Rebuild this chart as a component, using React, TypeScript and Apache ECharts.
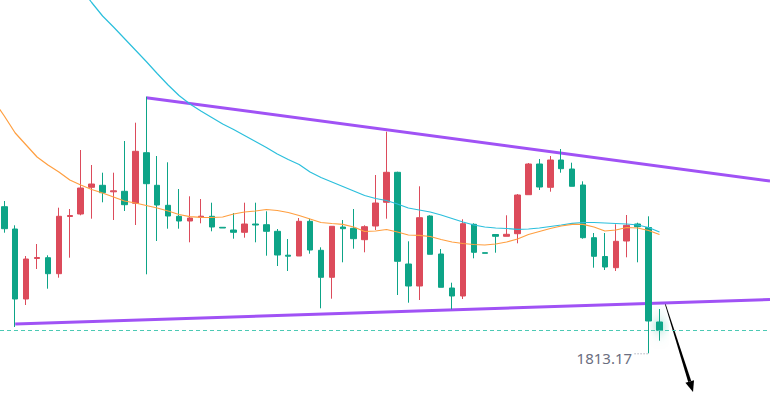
import React, { useEffect, useRef } from "react";
import * as echarts from "echarts";

// Candle data: [open, close, low, high], one per bar (index 0..60)
const opens = [1827.83,1825.6,1818.6,1822.65,1822.73,1821.13,1826.85,1827.1,1829.77,1829.97,1829.32,1829.37,1828.17,1833.23,1829.97,1827.97,1826.87,1826.4,1826.78,1826.87,1825.77,1825.5,1825.27,1826.1,1826.03,1825.37,1822.98,1822.9,1826.37,1823.47,1820.77,1825.8,1825.67,1824.53,1825.9,1828.27,1831.27,1822.1,1819.9,1826.9,1823.1,1819.7,1818.9,1826.07,1823.23,1825.05,1824.87,1825.13,1829.03,1832.1,1829.77,1832.5,1831.6,1830.0,1824.73,1822.85,1821.73,1824.4,1826.1,1825.75,1816.3];
const closes = [1825.63,1818.6,1822.6,1822.75,1821.13,1826.87,1826.95,1829.7,1830.1,1829.23,1829.42,1828.03,1833.37,1830.13,1828.0,1826.9,1826.4,1826.7,1826.88,1825.8,1825.7,1825.27,1826.1,1826.0,1825.37,1823.0,1822.88,1826.37,1823.5,1820.77,1825.87,1825.63,1824.63,1825.83,1828.2,1831.27,1822.37,1819.9,1826.73,1823.07,1819.77,1818.9,1826.13,1823.27,1823.17,1824.87,1825.07,1829.0,1832.1,1829.8,1832.5,1831.63,1829.87,1824.73,1822.87,1821.8,1824.37,1825.97,1825.83,1816.4,1815.47];
const lows = [1825.23,1815.8,1818.0,1821.6,1819.63,1820.73,1822.73,1826.97,1826.63,1828.27,1826.5,1827.4,1826.0,1821.07,1824.4,1825.63,1825.63,1824.27,1826.17,1825.37,1825.7,1824.63,1824.73,1824.27,1822.93,1821.9,1821.4,1822.9,1823.13,1817.67,1818.63,1822.27,1823.63,1823.27,1825.5,1826.63,1819.0,1818.23,1818.5,1823.07,1819.77,1817.57,1818.6,1822.67,1823.17,1823.23,1824.87,1824.17,1829.03,1829.5,1829.33,1831.23,1829.87,1824.63,1821.73,1821.5,1821.4,1822.77,1822.27,1813.17,1814.43];
const highs = [1828.4,1825.97,1822.9,1824.1,1822.97,1827.73,1827.6,1833.5,1832.0,1831.23,1831.23,1834.4,1836.23,1838.83,1832.9,1832.27,1829.6,1828.87,1828.6,1828.23,1825.77,1827.2,1828.23,1828.23,1827.37,1825.6,1824.6,1826.7,1826.63,1823.77,1825.87,1826.5,1827.6,1825.97,1831.0,1835.33,1831.33,1824.37,1829.87,1826.97,1823.6,1820.23,1826.57,1826.17,1823.23,1825.1,1826.97,1829.1,1832.2,1832.6,1832.9,1833.6,1832.23,1830.37,1825.2,1825.2,1826.07,1827.0,1826.23,1826.87,1817.6];

// Short moving average (orange), starting at index -1
const maShortStart = -1;
const maShort = [1838.5,1836.9,1835.2,1834.0,1832.8,1832.0,1831.3,1830.5,1830.0,1829.55,1829.2,1828.8,1828.4,1828.2,1827.95,1827.7,1827.4,1827.05,1826.83,1826.77,1826.75,1826.8,1827.1,1827.3,1827.4,1827.55,1827.45,1827.25,1826.95,1826.6,1826.25,1826.15,1826.07,1825.8,1825.35,1825.4,1825.55,1825.3,1825.0,1824.97,1824.85,1824.55,1824.3,1824.15,1824.05,1824.0,1824.1,1824.3,1824.6,1825.05,1825.35,1825.65,1825.9,1826.07,1826.07,1825.8,1825.4,1825.5,1825.75,1825.7,1825.45,1825.05];

// Long moving average (cyan), starting at index 7
const maLongStart = 7;
const maLong = [1849.7,1848.25,1846.9,1845.8,1844.65,1843.5,1842.35,1841.15,1840.0,1838.95,1838.1,1837.4,1836.75,1836.1,1835.55,1834.95,1834.35,1833.75,1833.1,1832.55,1832.05,1831.3,1830.75,1830.3,1829.85,1829.4,1828.95,1828.65,1828.45,1828.1,1827.7,1827.5,1827.3,1827.0,1826.65,1826.3,1826.0,1825.8,1825.7,1825.65,1825.57,1825.6,1825.7,1825.85,1826.0,1826.17,1826.25,1826.25,1826.2,1826.15,1826.1,1826.0,1825.75,1825.3];

// Trend lines: [barIndex, price]
const upperTrend = [[13, 1838.73], [70.12, 1830.4]];
const lowerTrend = [[1, 1816.1], [70.12, 1818.55]];

// Annotations
const lowIndex = 59;
const lowLabel = "1813.17";
const arrowFrom = [60.5, 1818.2];
const arrowTo = [63.07, 1809.3];

const X_MIN = -0.394;
const X_MAX = 70.12;
const Y_MIN = 1808.8;
const Y_MAX = 1848.5;

const UP = "#dc4b5b";
const DOWN = "#0da487";

export default function App() {
  const ref = useRef<HTMLDivElement>(null);

  useEffect(() => {
    if (!ref.current) return;
    const chart = echarts.init(ref.current, null, { renderer: "svg" });
    const last = opens.length - 1;
    const candleData = opens.map((o, i) => {
      const item: any = { value: [i, o, closes[i], lows[i], highs[i]] };
      if (i === last) {
        item.itemStyle = { shadowBlur: 10, shadowColor: "rgba(13,164,135,0.55)" };
      }
      return item;
    });
    const shortData = maShort.map((v, k) => [maShortStart + k, v]);
    const longData = maLong.map((v, k) => [maLongStart + k, v]);

    chart.setOption({
      animation: false,
      grid: { left: 0, right: 0, top: 0, bottom: 0 },
      xAxis: {
        type: "value",
        min: X_MIN,
        max: X_MAX,
        show: false,
        splitLine: { show: false },
      },
      yAxis: {
        type: "value",
        min: Y_MIN,
        max: Y_MAX,
        show: false,
        splitLine: { show: false },
      },
      series: [
        {
          type: "line",
          data: upperTrend,
          showSymbol: false,
          symbol: "none",
          lineStyle: { color: "#a052f5", width: 3 },
          z: 2,
        },
        {
          type: "line",
          data: lowerTrend,
          showSymbol: false,
          symbol: "none",
          lineStyle: { color: "#a052f5", width: 3 },
          z: 2,
        },
        {
          type: "candlestick",
          data: candleData,
          encode: { x: 0, y: [1, 2, 3, 4] },
          barWidth: 6,
          itemStyle: {
            color: UP,
            color0: DOWN,
            borderColor: UP,
            borderColor0: DOWN,
            borderWidth: 1,
          },
          markLine: {
            silent: true,
            symbol: "none",
            label: { show: false },
            lineStyle: { color: "#4cc9b4", type: [4, 3], width: 1 },
            data: [{ yAxis: closes[last] }],
          },
          z: 3,
        },
        {
          type: "line",
          data: longData,
          showSymbol: false,
          symbol: "none",
          lineStyle: { color: "#2bbfdc", width: 1.2 },
          z: 4,
        },
        {
          type: "line",
          data: shortData,
          showSymbol: false,
          symbol: "none",
          lineStyle: { color: "#ff9f40", width: 1.2 },
          z: 4,
        },
      ],
    });

    const toPx = (p: number[]) =>
      chart.convertToPixel({ xAxisIndex: 0, yAxisIndex: 0 }, p) as number[];

    const lowPx = toPx([lowIndex, lows[lowIndex]]);
    const a = toPx(arrowFrom);
    const b = toPx(arrowTo);
    const dx = b[0] - a[0];
    const dy = b[1] - a[1];
    const len = Math.sqrt(dx * dx + dy * dy);
    const ux = dx / len;
    const uy = dy / len;
    const nx = -uy;
    const ny = ux;
    const headLen = 11;
    const bb = [b[0] - ux * headLen, b[1] - uy * headLen];
    const shaft = [
      [a[0] + nx * 0.4, a[1] + ny * 0.4],
      [bb[0] + nx * 1.6, bb[1] + ny * 1.6],
      [bb[0] - nx * 1.6, bb[1] - ny * 1.6],
      [a[0] - nx * 0.4, a[1] - ny * 0.4],
    ];
    const head = [
      [b[0], b[1]],
      [bb[0] + nx * 4.5, bb[1] + ny * 4.5],
      [bb[0] - nx * 4.5, bb[1] - ny * 4.5],
    ];

    chart.setOption({
      graphic: [
        {
          type: "line",
          shape: { x1: lowPx[0] - 14, y1: lowPx[1] + 0.5, x2: lowPx[0] - 1, y2: lowPx[1] + 0.5 },
          style: { stroke: "#8a8c9c", lineWidth: 1, lineDash: [1, 2] },
          silent: true,
        },
        {
          type: "text",
          x: lowPx[0] - 16.5,
          y: lowPx[1] + 4.7,
          style: {
            text: lowLabel,
            fill: "#6b6e80",
            font: '15px "Noto Sans", sans-serif',
            align: "right",
            verticalAlign: "middle",
          },
          silent: true,
        },
        {
          type: "polygon",
          shape: { points: shaft },
          style: { fill: "#000" },
          silent: true,
        },
        {
          type: "polygon",
          shape: { points: head },
          style: { fill: "#000" },
          silent: true,
        },
      ],
    });

    return () => chart.dispose();
  }, []);

  return (
    <div
      ref={ref}
      style={{ position: "fixed", left: 0, top: 0, width: 770, height: 397, background: "#fff" }}
    />
  );
}
